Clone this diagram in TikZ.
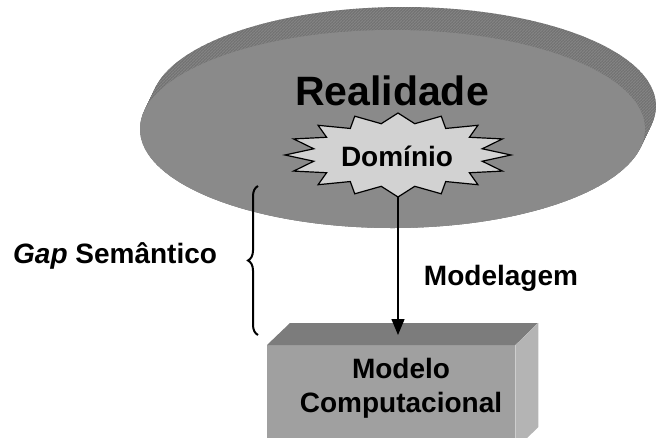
\documentclass[tikz,border=0pt]{standalone}
\usepackage{fontspec}
\setmainfont{Liberation Sans}
\usetikzlibrary{arrows.meta,decorations.pathreplacing,patterns}
\definecolor{rimgray}{RGB}{114,114,114}
\definecolor{rimline}{RGB}{132,132,132}
\definecolor{facegray}{RGB}{138,138,138}
\definecolor{boxfront}{RGB}{160,160,160}
\definecolor{boxtop}{RGB}{124,124,124}
\definecolor{boxside}{RGB}{180,180,180}
\definecolor{starfill}{RGB}{210,210,210}
\begin{document}
\begin{tikzpicture}[x=1pt,y=-1pt,
  lbl/.style={font=\fontsize{28}{34}\selectfont\bfseries, inner sep=0pt},
  bigtxt/.style={font=\fontsize{41}{49}\selectfont\bfseries, inner sep=0pt},
  conn/.style={line width=1.4pt, -{Triangle[length=16pt,width=13pt]}},
  bracestyle/.style={line width=2pt, decorate, decoration={brace, amplitude=10pt}}]
\useasboundingbox (0,0) rectangle (656,437);
\clip (0,0) rectangle (656,437);
% extruded rim of the ellipse
\foreach \t in {0,0.05,...,1.0001} {
  \fill[rimgray] ({392.5+11*\t},{129-23*\t}) ellipse [x radius=252.5pt, y radius=99pt];
}
\foreach \t in {0,0.05,...,1.0001} {
  \fill[pattern=north east lines, pattern color=rimline] ({392.5+11*\t},{129-23*\t}) ellipse [x radius=252.5pt, y radius=99pt];
}
% front face
\fill[facegray] (392.5,129) ellipse [x radius=252.5pt, y radius=99pt];
\node[bigtxt, anchor=base] (real) at (392,105) {Realidade};
% starburst
\filldraw[fill=starfill, draw=black, line width=1.2pt, line join=miter]
  ({398+113*cos(90)},{155-42*sin(90)})
  \foreach \i in {1,...,31} {
    -- ({398+113*(0.88+0.12*cos(\i*180))*cos(90+\i*11.25)},{155-42*(0.88+0.12*cos(\i*180))*sin(90+\i*11.25)})
  } -- cycle;
\node[lbl, anchor=base] (dom) at (397,166) {Domínio};
\coordinate (dombot) at (398,197);
% box
\node[inner sep=0pt, minimum width=248pt, minimum height=104pt, fill=boxfront, anchor=north west] (box) at (267,345) {};
\fill[boxtop] (box.north west) -- ++(23,-22) -- ++(248,0) -- (box.north east) -- cycle;
\fill[boxside] (box.north east) -- ++(23,-22) -- ++(0,104) -- (box.south east) -- cycle;
\node[lbl, align=center] (modtxt) at (401,388) {Modelo\\Computacional};
\coordinate (arrowend) at (398,335);
\draw[conn] (dombot) -- (arrowend);
\node[lbl, anchor=base] (modelagem) at (501,285) {Modelagem};
% brace
\coordinate (bracelow) at (258,335);
\coordinate (bracehigh) at (258,186);
\draw[bracestyle] (bracelow) -- (bracehigh);
\node[lbl, anchor=base west] (gap) at (13,263) {\textit{Gap} Semântico};
\end{tikzpicture}
\end{document}
